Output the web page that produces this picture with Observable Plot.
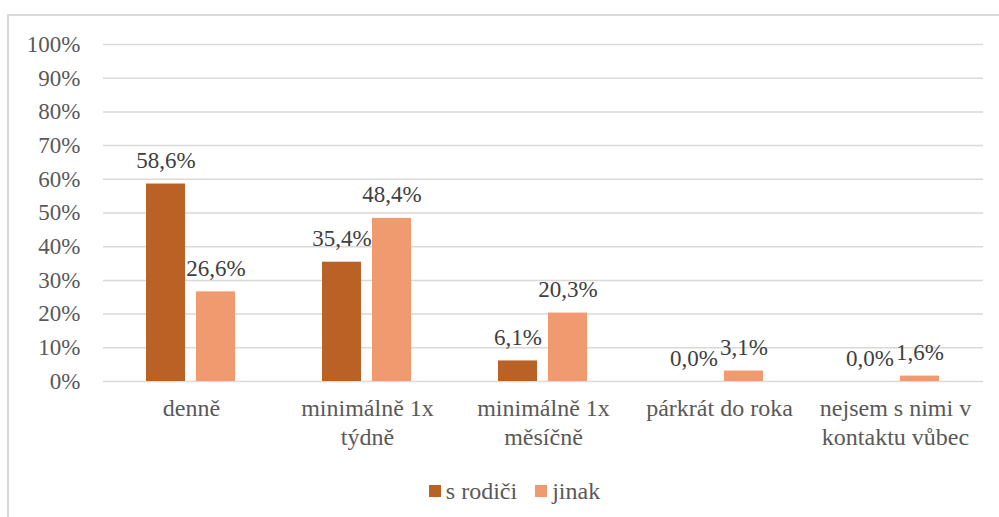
<!DOCTYPE html>
<html>
<head>
<meta charset="utf-8">
<script src="https://cdn.jsdelivr.net/npm/d3@7"></script>
<script src="https://cdn.jsdelivr.net/npm/@observablehq/plot@0.6"></script>
</head>
<body style="margin:0;padding:0;background:#fff;font-family:'Liberation Serif'">
<div id="wrap" style="position:relative;width:999px;height:517px;overflow:hidden;font-family:'Liberation Serif'">
  <div id="border" style="position:absolute;left:7px;top:14px;width:995px;height:520px;border:2px solid #d9d9d9;box-sizing:border-box"></div>
  <div id="chart" style="position:absolute;left:0;top:0"></div>
  <div id="legend" style="position:absolute;left:15px;top:476px;width:999px;text-align:center;font-family:'Liberation Serif';font-size:24px;color:#595959"></div>
</div>
<script>
const categories = ["denně", "minimálně 1x týdně", "minimálně 1x měsíčně", "párkrát do roka", "nejsem s nimi v kontaktu vůbec"];
const tickLabels = ["denně", "minimálně 1x\ntýdně", "minimálně 1x\nměsíčně", "párkrát do roka", "nejsem s nimi v\nkontaktu vůbec"];
const series = ["s rodiči", "jinak"];
const sRodici = [58.6, 35.4, 6.1, 0.0, 0.0];
const jinak = [26.6, 48.4, 20.3, 3.1, 1.6];
const yTicks = [0, 10, 20, 30, 40, 50, 60, 70, 80, 90, 100];
const colors = ["#BA6126", "#F09A70"];

const data = categories.flatMap((c, i) => [
  {category: c, series: series[0], value: sRodici[i]},
  {category: c, series: series[1], value: jinak[i]}
]);

const fmt = v => v.toFixed(1).replace(".", ",") + "%";

const chart = Plot.plot({
  width: 999,
  height: 470,
  marginLeft: 101,
  marginRight: 14,
  marginTop: 44,
  marginBottom: 89,
  style: {fontFamily: "Liberation Serif", fontSize: "23px", color: "#595959", background: "transparent"},
  fx: {domain: categories, padding: 0, label: null},
  x: {domain: series, paddingInner: 0.218, paddingOuter: 0.857, axis: null},
  y: {domain: [0, 100], label: null},
  color: {domain: series, range: colors},
  marks: [
    Plot.gridY(yTicks, {stroke: "#d9d9d9", strokeOpacity: 1, strokeWidth: 1.5}),
    Plot.axisY(yTicks, {tickSize: 0, tickPadding: 23, tickFormat: d => d + "%", label: null, fill: "#595959", fontSize: 23}),
    Plot.axisFx({anchor: "bottom", tickSize: 0, tickPadding: 14, label: null, lineHeight: 1.2, fill: "#595959", fontSize: 24,
      tickFormat: d => tickLabels[categories.indexOf(d)]}),
    Plot.barY(data, {fx: "category", x: "series", y: "value", fill: "series"}),
    Plot.text(data, {fx: "category", x: "series", y: "value", text: d => fmt(d.value), lineAnchor: "bottom", dy: -16, fill: "#404040", fontSize: 23})
  ]
});
chart.setAttribute("font-family", "Liberation Serif");
chart.style.fontFamily = "'Liberation Serif'";
chart.querySelectorAll("g, text, tspan").forEach(el => {
  el.setAttribute("font-family", "Liberation Serif");
  el.style.fontFamily = "'Liberation Serif'";
});
document.getElementById("chart").appendChild(chart);

const legend = document.getElementById("legend");
series.forEach((s, i) => {
  const item = document.createElement("span");
  item.style.cssText = "display:inline-flex;align-items:center;margin:0 9px;font-family:'Liberation Serif'";
  const sw = document.createElement("span");
  sw.style.cssText = "display:inline-block;width:12px;height:12px;margin-right:5px;background:" + colors[i];
  item.appendChild(sw);
  item.appendChild(document.createTextNode(s));
  legend.appendChild(item);
});
</script>
</body>
</html>
